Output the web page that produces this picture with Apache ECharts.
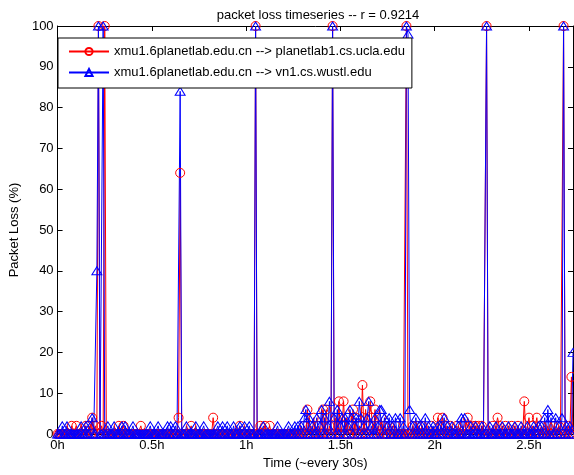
<!DOCTYPE html>
<html>
<head>
<meta charset="utf-8">
<script src="https://cdn.jsdelivr.net/npm/echarts@6/dist/echarts.min.js"></script>
<style>
  html, body { margin: 0; padding: 0; background: #fff; }
  #chart { width: 574px; height: 475px; }
</style>
</head>
<body>
<div id="chart"></div>
<script>
// one sample every 30 s
var SAMPLE_SEC = 30;
var seriesNames = [
  'xmu1.6planetlab.edu.cn --> planetlab1.cs.ucla.edu',
  'xmu1.6planetlab.edu.cn --> vn1.cs.wustl.edu'
];
var xTicks = ['0h', '0.5h', '1h', '1.5h', '2h', '2.5h'];

// packet loss (%) to planetlab1.cs.ucla.edu
var uclaLoss = [
  0,0,0,0,0,0,0,0,0,2, 0,0,2,0,0,0,0,0,2,0,
  2,0,4,0,2,0,100,0,2,0, 100,0,0,0,0,0,0,0,0,2,
  0,0,2,0,0,0,0,0,0,0, 0,0,0,2,0,0,0,0,0,0,
  0,0,0,0,0,0,0,0,0,0, 0,0,0,0,0,0,0,4,64,0,
  0,0,0,0,0,2,0,0,0,0, 0,0,0,0,0,0,0,0,0,4,
  0,0,0,0,0,0,0,0,0,0, 0,0,0,0,0,0,2,0,0,0,
  0,0,0,0,0,0,100,0,0,2, 0,0,2,0,0,2,0,0,0,0,
  0,0,0,0,0,0,0,0,0,0, 0,0,0,0,0,0,0,2,0,6,
  0,2,0,4,0,0,2,0,0,6, 0,6,0,2,0,100,0,4,0,8,
  0,2,8,0,4,0,2,0,6,0, 4,0,2,0,12,0,6,0,2,8,
  4,0,6,0,2,0,4,0,2,0, 0,2,0,0,0,2,0,0,0,0,
  0,0,100,0,0,0,2,0,0,2, 0,0,2,0,0,0,0,0,2,0,
  0,0,4,0,0,4,0,2,0,0, 2,0,0,0,2,0,0,0,2,0,
  0,4,2,0,2,0,2,0,2,0, 2,0,0,100,0,0,0,2,0,0,
  4,2,0,0,0,2,0,0,0,2, 0,0,0,2,0,0,0,8,0,0,
  4,0,2,0,0,4,0,0,2,0, 0,0,2,0,0,0,2,0,0,2,
  0,0,100,0,0,2,0,14,0
];

// packet loss (%) to vn1.cs.wustl.edu
var wustlLoss = [
  0,0,0,2,0,0,2,0,0,0, 0,0,0,0,0,2,0,0,2,0,
  0,2,4,0,0,40,100,0,0,100, 0,0,2,0,0,0,2,0,0,0,
  0,2,0,2,0,0,0,0,2,0, 0,0,0,0,0,0,0,0,0,2,
  0,0,0,0,2,0,0,0,0,0, 2,0,2,0,0,2,0,0,84,0,
  0,0,2,0,0,0,0,0,2,0, 0,0,0,2,0,0,0,0,0,0,
  0,0,2,0,0,2,0,0,2,0, 0,0,2,0,0,0,2,0,0,2,
  0,0,2,0,0,0,100,0,0,0, 0,2,0,0,0,0,0,0,0,0,
  2,0,0,0,0,0,0,2,0,0, 0,2,0,2,0,2,0,4,6,0,
  4,0,2,0,0,4,0,2,6,0, 4,0,2,8,0,100,4,0,6,0,
  2,4,0,4,0,2,6,4,0,2, 4,0,8,4,0,2,0,4,8,0,
  2,0,4,0,2,6,6,0,4,0, 2,4,0,2,0,4,0,0,4,0,
  2,0,100,98,6,0,2,0,4,0, 2,0,2,0,4,0,2,0,0,2,
  0,0,2,0,2,0,4,0,2,0, 0,2,0,0,0,2,0,4,0,4,
  0,0,0,2,0,0,2,0,0,0, 2,0,0,100,0,2,0,0,0,2,
  0,0,0,2,0,0,0,2,0,0, 0,2,0,0,0,2,0,0,0,2,
  0,0,0,2,0,0,2,0,2,0, 4,0,6,0,4,0,0,4,0,2,
  0,4,100,0,2,0,2,0,20
];

function toPoints(arr) {
  var pts = [];
  for (var i = 0; i < arr.length; i++) {
    pts.push([i * SAMPLE_SEC / 3600, arr[i]]);
  }
  return pts;
}

var xMax = (uclaLoss.length - 1) * SAMPLE_SEC / 3600;
var font = 'Liberation Sans, Arial, sans-serif';

var chart = echarts.init(document.getElementById('chart'));

function axisTick() {
  return { show: true, inside: true, length: 5, lineStyle: { color: '#000', width: 1 } };
}
function axisLine() {
  return { show: true, onZero: false, lineStyle: { color: '#000', width: 1 } };
}

var option = {
  animation: false,
  backgroundColor: '#fff',
  title: {
    text: 'packet loss timeseries -- r = 0.9214',
    left: 313, top: 4, textAlign: 'center',
    textStyle: { fontFamily: font, fontSize: 13, fontWeight: 'normal', color: '#000' }
  },
  legend: {
    orient: 'vertical',
    left: 58, top: 38,
    padding: [7, 7, 9, 10],
    itemGap: 8,
    itemWidth: 40, itemHeight: 9,
    backgroundColor: '#fff',
    borderColor: '#000', borderWidth: 1, borderRadius: 0,
    textStyle: { fontFamily: font, fontSize: 13, color: '#000' },
    data: seriesNames
  },
  grid: { left: 54, right: 1, top: 26, bottom: 39 },
  xAxis: [
    {
      type: 'value', min: 0, max: xMax, interval: 0.5,
      position: 'bottom',
      axisLine: axisLine(), axisTick: axisTick(), splitLine: { show: false },
      name: 'Time (~every 30s)',
      nameLocation: 'middle', nameGap: 23,
      nameTextStyle: { fontFamily: font, fontSize: 13, color: '#000' },
      axisLabel: {
        fontFamily: font, fontSize: 13, color: '#000', margin: 5,
        showMaxLabel: false,
        formatter: function (v) {
          var k = Math.round(v / 0.5);
          return Math.abs(v - k * 0.5) < 1e-6 && xTicks[k] ? xTicks[k] : '';
        }
      }
    },
    {
      type: 'value', min: 0, max: xMax, interval: 0.5,
      position: 'top',
      axisLine: axisLine(), axisTick: axisTick(), splitLine: { show: false },
      axisLabel: { show: false }
    }
  ],
  yAxis: [
    {
      type: 'value', min: 0, max: 100, interval: 10,
      position: 'left',
      axisLine: axisLine(), axisTick: axisTick(), splitLine: { show: false },
      name: 'Packet Loss (%)',
      nameLocation: 'middle', nameGap: 34,
      nameTextStyle: { fontFamily: font, fontSize: 13, color: '#000' },
      axisLabel: { fontFamily: font, fontSize: 13, color: '#000', margin: 4 }
    },
    {
      type: 'value', min: 0, max: 100, interval: 10,
      position: 'right',
      axisLine: axisLine(), axisTick: axisTick(), splitLine: { show: false },
      axisLabel: { show: false }
    }
  ],
  series: [
    {
      name: seriesNames[0],
      type: 'line',
      data: toPoints(uclaLoss),
      symbol: 'circle', symbolSize: 9,
      lineStyle: { color: '#ff0000', width: 1 },
      itemStyle: { color: 'rgba(255,255,255,0)', borderColor: '#ff0000', borderWidth: 1 },
      emphasis: { disabled: true }
    },
    {
      name: seriesNames[1],
      type: 'line',
      data: toPoints(wustlLoss),
      symbol: 'triangle', symbolSize: [10, 8],
      lineStyle: { color: '#0000ff', width: 1 },
      itemStyle: { color: 'rgba(255,255,255,0)', borderColor: '#0000ff', borderWidth: 1 },
      emphasis: { disabled: true }
    }
  ]
};

chart.setOption(option);
</script>
</body>
</html>
